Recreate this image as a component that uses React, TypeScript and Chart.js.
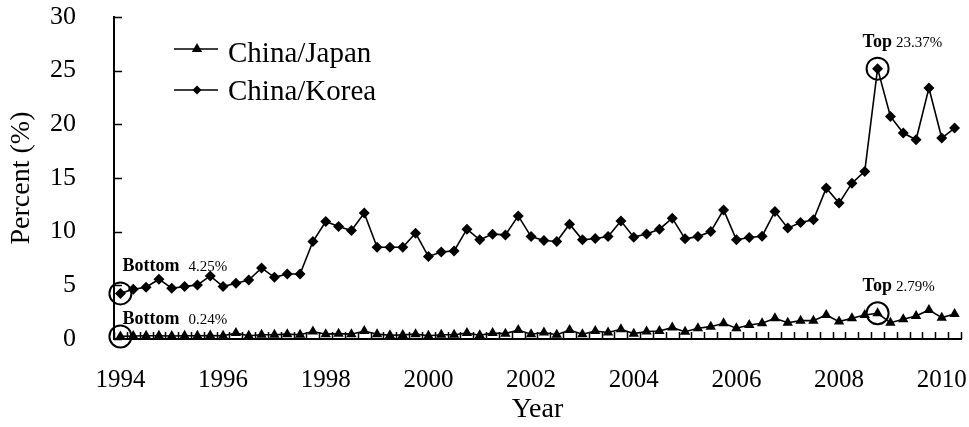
import React, { useEffect, useRef } from 'react';
import { Chart, registerables } from 'chart.js';

Chart.register(...registerables);

// ---------------- data ----------------
const years = [1994, 1995, 1996, 1997, 1998, 1999, 2000, 2001, 2002, 2003, 2004, 2005, 2006, 2007, 2008, 2009, 2010];
const quarterNames = ['Q1', 'Q2', 'Q3', 'Q4'];
const categories = years.flatMap((y) => quarterNames.map((q) => `${y}${q}`)).slice(0, 66);
const tickYears = ['1994', '1996', '1998', '2000', '2002', '2004', '2006', '2008', '2010'];
const yTicks = [0, 5, 10, 15, 20, 25, 30];

const chinaJapan = [
  0.24, 0.28, 0.3, 0.3, 0.28, 0.3, 0.3, 0.32, 0.3, 0.55, 0.3, 0.4,
  0.4, 0.45, 0.4, 0.7, 0.45, 0.5, 0.45, 0.75, 0.45, 0.35, 0.38, 0.45,
  0.3, 0.4, 0.4, 0.55, 0.35, 0.55, 0.5, 0.84, 0.45, 0.6, 0.4, 0.84,
  0.45, 0.75, 0.6, 0.9, 0.5, 0.7, 0.75, 1.06, 0.68, 1.0, 1.15, 1.46,
  1.0, 1.31, 1.46, 1.93, 1.52, 1.71, 1.71, 2.24, 1.62, 1.93, 2.24, 2.4,
  1.52, 1.84, 2.15, 2.71, 1.99, 2.33,
];

const chinaKorea = [
  4.25, 4.64, 4.82, 5.57, 4.73, 4.88, 5.04, 5.88, 4.88, 5.19, 5.5, 6.62,
  5.75, 6.06, 6.06, 9.08, 10.94, 10.48, 10.1, 11.73, 8.55, 8.55, 8.55, 9.86,
  7.68, 8.1, 8.21, 10.23, 9.24, 9.77, 9.7, 11.47, 9.54, 9.17, 9.08, 10.7,
  9.24, 9.36, 9.54, 11.0, 9.49, 9.79, 10.23, 11.26, 9.33, 9.54, 10.01, 12.03,
  9.24, 9.45, 9.58, 11.88, 10.33, 10.85, 11.1, 14.06, 12.66, 14.52, 15.61, 25.19,
  20.74, 19.19, 18.56, 23.39, 18.72, 19.65,
];

const seriesNames = ['China/Japan', 'China/Korea'];

// annotated points: [dataset, index, word, value]
const marks: [number, number, string, string][] = [
  [1, 0, 'Bottom', '4.25%'],
  [0, 0, 'Bottom', '0.24%'],
  [1, 59, 'Top', '23.37%'],
  [0, 59, 'Top', '2.79%'],
];

const SERIF = '"Liberation Serif", "Times New Roman", serif';

function drawTriangle(ctx: CanvasRenderingContext2D, x: number, y: number, r: number) {
  ctx.beginPath();
  ctx.moveTo(x, y - r);
  ctx.lineTo(x + r * 0.866, y + r / 2);
  ctx.lineTo(x - r * 0.866, y + r / 2);
  ctx.closePath();
  ctx.fill();
}
function drawDiamond(ctx: CanvasRenderingContext2D, x: number, y: number, r: number) {
  ctx.beginPath();
  ctx.moveTo(x, y - r);
  ctx.lineTo(x + r, y);
  ctx.lineTo(x, y + r);
  ctx.lineTo(x - r, y);
  ctx.closePath();
  ctx.fill();
}

const innerTicks = {
  id: 'innerTicks',
  afterDraw(chart: any) {
    const { ctx, scales } = chart;
    const xs = scales.x;
    const ys = scales.y;
    ctx.save();
    ctx.strokeStyle = '#000';
    ctx.lineWidth = 1.5;
    const w = xs.getPixelForValue(1) - xs.getPixelForValue(0);
    const bottom = ys.getPixelForValue(0);
    ctx.beginPath();
    for (let k = 0; k <= categories.length; k++) {
      const px = Math.round(xs.getPixelForValue(0) - w / 2 + k * w) + 0.5;
      ctx.moveTo(px, bottom);
      ctx.lineTo(px, bottom - 7);
    }
    const left = xs.left;
    for (const v of yTicks) {
      const py = Math.round(ys.getPixelForValue(v)) + 0.5;
      ctx.moveTo(left, py);
      ctx.lineTo(left + 8, py);
    }
    ctx.stroke();
    ctx.restore();
  },
};

const annotate = {
  id: 'annotate',
  afterDatasetsDraw(chart: any) {
    const { ctx } = chart;
    ctx.save();
    ctx.strokeStyle = '#000';
    ctx.fillStyle = '#000';
    ctx.lineWidth = 2;
    for (const [ds, idx, word, val] of marks) {
      const pt = chart.getDatasetMeta(ds).data[idx];
      const x = pt.x;
      const y = pt.y;
      ctx.beginPath();
      ctx.arc(x, y, 11, 0, Math.PI * 2);
      ctx.stroke();
      let tx: number;
      let ty: number;
      let gap: number;
      if (word === 'Bottom') {
        tx = x + 2;
        ty = ds === 1 ? y - 22 : y - 12;
        gap = 9;
      } else {
        tx = x - 15;
        ty = y - 22;
        gap = 4;
      }
      ctx.textBaseline = 'alphabetic';
      ctx.textAlign = 'left';
      ctx.font = `bold 18px ${SERIF}`;
      ctx.fillText(word, tx, ty);
      const ww = ctx.measureText(word).width;
      ctx.font = `15px ${SERIF}`;
      ctx.fillText(val, tx + ww + gap, ty);
    }
    ctx.restore();
  },
};

const legendPlugin = {
  id: 'customLegend',
  afterDraw(chart: any) {
    const { ctx } = chart;
    ctx.save();
    ctx.strokeStyle = '#000';
    ctx.fillStyle = '#000';
    ctx.lineWidth = 1.5;
    const rows = [
      { y: 49, ty: 62, name: seriesNames[0], tri: true },
      { y: 90, ty: 100, name: seriesNames[1], tri: false },
    ];
    for (const r of rows) {
      ctx.beginPath();
      ctx.moveTo(174, r.y);
      ctx.lineTo(218, r.y);
      ctx.stroke();
      if (r.tri) drawTriangle(ctx, 197, r.y, 6);
      else drawDiamond(ctx, 197, r.y, 4.5);
      ctx.font = `29px ${SERIF}`;
      ctx.textBaseline = 'alphabetic';
      ctx.fillText(r.name, 228, r.ty);
    }
    ctx.restore();
  },
};

export default function App() {
  const ref = useRef<HTMLCanvasElement | null>(null);

  useEffect(() => {
    document.body.style.margin = '0';
    const canvas = ref.current;
    if (!canvas) return;
    const chart = new Chart(canvas, {
      type: 'line',
      data: {
        labels: categories,
        datasets: [
          {
            label: seriesNames[0],
            data: chinaJapan,
            borderColor: '#000',
            backgroundColor: '#000',
            borderWidth: 1.6,
            pointStyle: 'triangle',
            pointRadius: 6,
            pointBorderWidth: 0,
            tension: 0,
          },
          {
            label: seriesNames[1],
            data: chinaKorea,
            borderColor: '#000',
            backgroundColor: '#000',
            borderWidth: 1.6,
            pointStyle: 'rectRot',
            pointRadius: 5.5,
            pointBorderWidth: 0,
            tension: 0,
          },
        ],
      },
      options: {
        animation: false,
        responsive: false,
        devicePixelRatio: 1,
        layout: { padding: { left: 0, right: 8, top: 17, bottom: 0 } },
        plugins: {
          legend: { display: false },
          tooltip: { enabled: false },
        },
        scales: {
          x: {
            type: 'category',
            offset: true,
            grid: { display: false, drawTicks: false },
            border: { display: true, color: '#000', width: 2 },
            ticks: {
              autoSkip: false,
              maxRotation: 0,
              minRotation: 0,
              padding: 26,
              color: '#000',
              font: { family: SERIF, size: 25 },
              callback: (_v: any, i: number) => {
                const c = categories[i];
                if (!c.endsWith('Q1')) return '';
                const yr = c.slice(0, 4);
                return tickYears.includes(yr) ? yr : '';
              },
            },
            title: {
              display: true,
              text: 'Year',
              color: '#000',
              font: { family: SERIF, size: 28, lineHeight: 1 },
              padding: { top: 0, bottom: 3 },
            },
            afterFit: (s: any) => {
              s.height = 88;
              s.paddingLeft = 0;
              s.paddingRight = 0;
            },
          },
          y: {
            min: 0,
            max: 30,
            grid: { display: false, drawTicks: false },
            border: { display: true, color: '#000', width: 2 },
            ticks: {
              stepSize: 5,
              padding: 38,
              color: '#000',
              font: { family: SERIF, size: 26 },
            },
            title: {
              display: true,
              text: 'Percent (%)',
              color: '#000',
              font: { family: SERIF, size: 28, lineHeight: 1 },
              padding: { top: 8, bottom: 0 },
            },
            afterFit: (s: any) => {
              s.width = 114;
              s.paddingTop = 0;
              s.paddingBottom = 0;
            },
          },
        },
      },
      plugins: [innerTicks, annotate, legendPlugin],
    });
    return () => chart.destroy();
  }, []);

  return (
    <div style={{ width: 969, height: 427, background: '#fff' }}>
      <canvas ref={ref} width={969} height={427} style={{ display: 'block' }} />
    </div>
  );
}
